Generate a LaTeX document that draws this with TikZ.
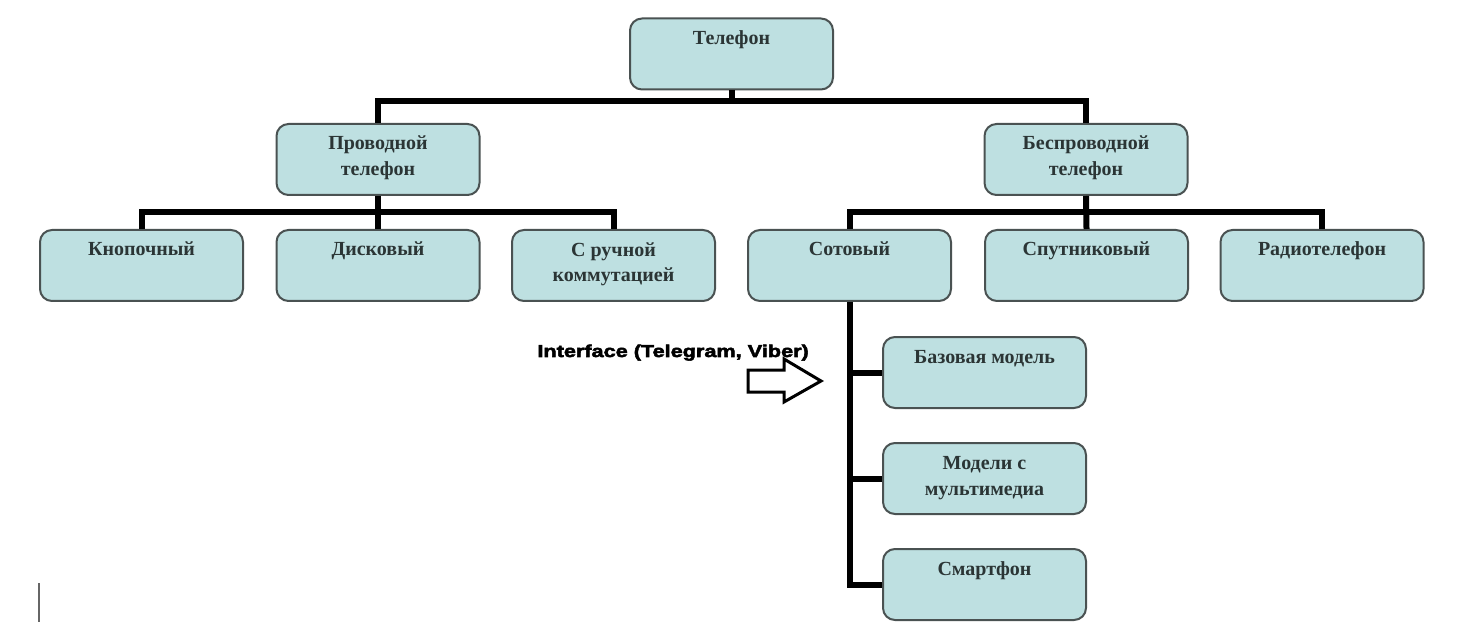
\documentclass[tikz,border=0pt]{standalone}
\usepackage{fontspec}
\setmainfont{Liberation Serif}
\newfontfamily\heavyfont[FakeBold=3,FakeStretch=1.26]{Liberation Sans}
\definecolor{boxfill}{HTML}{BEE0E1}
\definecolor{boxline}{HTML}{4A5252}
\definecolor{boxtext}{HTML}{2B3535}
\begin{document}
\begin{tikzpicture}[x=0.5pt,y=-0.5pt,
  box/.style={draw=boxline, fill=boxfill, line width=1pt, rounded corners=6pt,
    minimum width=101.5pt, minimum height=35.5pt, inner sep=0pt},
  boxlabel/.style={anchor=base, align=center, text=boxtext, inner sep=0pt,
    font=\bfseries\fontsize{10pt}{13pt}\selectfont},
  conn/.style={draw=black, line width=3pt, line join=miter},
  note/.style={anchor=base west, inner sep=0pt, font=\heavyfont\bfseries\fontsize{8.6pt}{10pt}\selectfont}]
\useasboundingbox (0,0) rectangle (1459,630);

% level 0
\node[box] (tel) at (731.5,54) {};
% level 1
\node[box] (wired)    at (378,159.5) {};
\node[box] (wireless) at (1086,159.5) {};
% level 2
\node[box] (knop)   at (141.5,265.5) {};
\node[box] (disk)   at (378,265.5) {};
\node[box] (manual) at (613.5,265.5) {};
\node[box] (cell)   at (849.5,265.5) {};
\node[box] (sat)    at (1086.5,265.5) {};
\node[box] (radio)  at (1322,265.5) {};
% cellular sub-types
\node[box] (base)  at (984.5,372.5) {};
\node[box] (multi) at (984.5,478.5) {};
\node[box] (smart) at (984.5,584.5) {};

% box captions; the base anchor sits on the last line's baseline
\foreach \n/\s/\t in {tel/13.5/Телефон, wired/26.5/{Проводной\\телефон},
    wireless/26.5/{Беспроводной\\телефон}, knop/13.5/Кнопочный, disk/13.5/Дисковый,
    manual/26.5/{С ручной\\коммутацией}, cell/13.5/Сотовый, sat/13.5/Спутниковый,
    radio/13.5/Радиотелефон, base/13.5/Базовая модель,
    multi/26.5/{Модели с\\мультимедиа}, smart/13.5/Смартфон}
  \node[boxlabel] (\n-txt) at ([yshift=-\s pt]\n.north) {\t};

% connectors
\coordinate (bus1) at (731.5,101);
\coordinate (bus2) at (378,212);
\coordinate (bus3) at (1086,212);
\draw[conn] (tel.south) -- (bus1);
\draw[conn] (wired.north) |- (bus1) -| (wireless.north);
\draw[conn] (wired.south) -- (disk.north);
\draw[conn] (knop.north) |- (bus2) -| (manual.north);
\draw[conn] (wireless.south) -- (sat.north);
\draw[conn] (cell.north) |- (bus3) -| (radio.north);
\draw[conn] (cell.south) |- (smart.west);
\draw[conn] (cell.south |- base.west) -- (base.west);
\draw[conn] (cell.south |- multi.west) -- (multi.west);

% annotation with outline arrow
\node[note] (iface) at (537,357) {Interface (Telegram, Viber)};
\draw[line width=1.5pt, line join=miter]
  (748,370) -- (784,370) -- (784,359) -- (821,381) -- (784,402) -- (784,392) -- (748,392) -- cycle;

% text cursor
\draw[line width=1pt, draw=black!60] (39,583) -- (39,622);
\end{tikzpicture}
\end{document}
